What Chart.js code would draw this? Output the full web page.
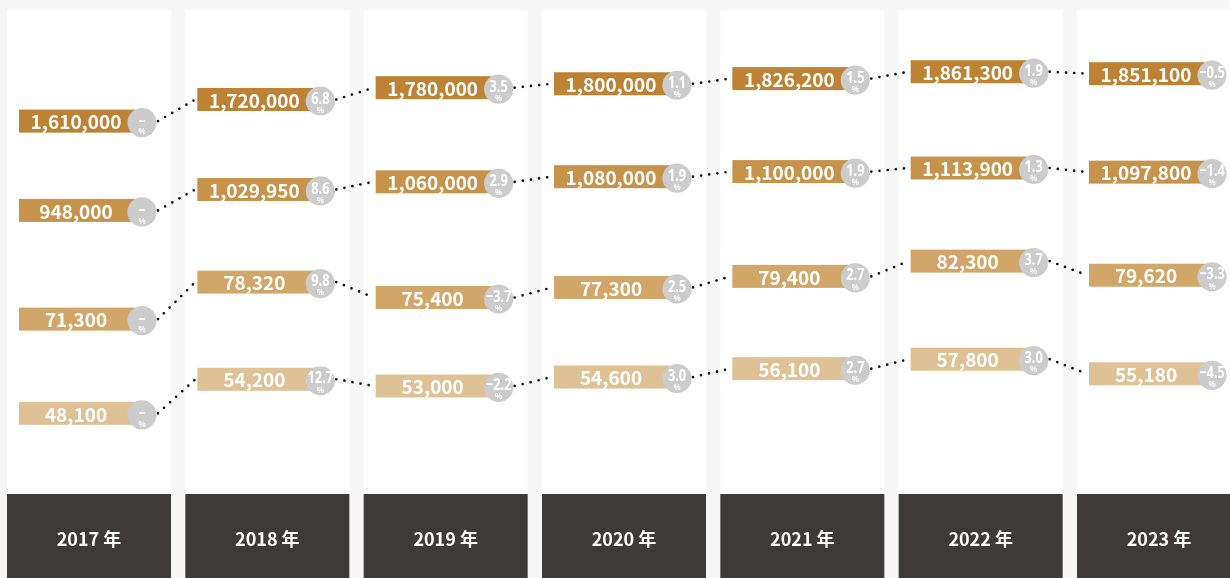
<!DOCTYPE html>
<html lang="ja">
<head>
<meta charset="utf-8">
<script src="https://cdn.jsdelivr.net/npm/chart.js@4.4.1/dist/chart.umd.min.js"></script>
<style>
  html, body { margin: 0; padding: 0; background: #f7f7f7; overflow: hidden; }
  #wrap { position: relative; width: 1230px; height: 578px; }
</style>
</head>
<body>
<div id="wrap"><canvas id="trendChart"></canvas></div>
<script>
// Year columns
const years = ['2017 年', '2018 年', '2019 年', '2020 年', '2021 年', '2022 年', '2023 年'];

// One series per row, top to bottom
const row1Values = [1610000, 1720000, 1780000, 1800000, 1826200, 1861300, 1851100];
const row2Values = [948000, 1029950, 1060000, 1080000, 1100000, 1113900, 1097800];
const row3Values = [71300, 78320, 75400, 77300, 79400, 82300, 79620];
const row4Values = [48100, 54200, 53000, 54600, 56100, 57800, 55180];

// Year-on-year change (%), first year has none
const row1Rates = ['–', '6.8', '3.5', '1.1', '1.5', '1.9', '−0.5'];
const row2Rates = ['–', '8.6', '2.9', '1.9', '1.9', '1.3', '−1.4'];
const row3Rates = ['–', '9.8', '−3.7', '2.5', '2.7', '3.7', '−3.3'];
const row4Rates = ['–', '12.7', '−2.2', '3.0', '2.7', '3.0', '−4.5'];

const rowColors = ['#bd8233', '#c7934a', '#d2a669', '#dec194'];
const rowRates = [row1Rates, row2Rates, row3Rates, row4Rates];

const FONT = '"Noto Sans CJK JP", "Noto Sans", sans-serif';
const BADGE_FONT = '"Noto Sans", "Noto Sans CJK JP", sans-serif';

function formatNumber(v) {
  return v.toLocaleString('en-US');
}

// narrow text for the small round badges
function drawCondensed(ctx, text, x, y, squeeze, maxW) {
  ctx.save();
  ctx.translate(x, y);
  ctx.scale(squeeze, 1);
  ctx.fillText(text, 0, 0, maxW / squeeze);
  ctx.restore();
}

const panelPlugin = {
  id: 'panels',
  beforeDraw(chart) {
    const ctx = chart.ctx;
    const xScale = chart.scales.x;
    ctx.save();
    ctx.fillStyle = '#f7f7f7';
    ctx.fillRect(0, 0, chart.width, chart.height);
    years.forEach((label, i) => {
      const cx = xScale.getPixelForValue(i);
      ctx.fillStyle = '#ffffff';
      ctx.fillRect(cx - 82, 10, 164, 484);
      ctx.fillStyle = '#3e3a39';
      ctx.fillRect(cx - 82, 494, 164, chart.height - 494);
      ctx.fillStyle = '#ffffff';
      ctx.font = 'bold 18px ' + FONT;
      ctx.textAlign = 'center';
      ctx.textBaseline = 'middle';
      ctx.fillText(label, cx, 539);
    });
    ctx.restore();
  },
  afterDatasetsDraw(chart) {
    const ctx = chart.ctx;
    ctx.save();

    // dotted connectors between years
    chart.data.datasets.forEach((ds, d) => {
      const pts = chart.getDatasetMeta(d).data;
      ctx.strokeStyle = '#111111';
      ctx.lineWidth = 2.7;
      ctx.lineCap = 'round';
      ctx.setLineDash([0, 8.2]);
      for (let i = 0; i < pts.length - 1; i++) {
        ctx.beginPath();
        ctx.moveTo(pts[i].x + 69, pts[i].y);
        ctx.lineTo(pts[i + 1].x - 72, pts[i + 1].y);
        ctx.stroke();
      }
    });
    ctx.setLineDash([]);

    // value bars with change badges
    chart.data.datasets.forEach((ds, d) => {
      const pts = chart.getDatasetMeta(d).data;
      pts.forEach((pt, i) => {
        const x = pt.x, y = pt.y;
        ctx.fillStyle = rowColors[d];
        ctx.fillRect(x - 70, y - 11.5, 116, 23);

        ctx.fillStyle = '#ffffff';
        ctx.font = 'bold 19px ' + FONT;
        ctx.textAlign = 'center';
        ctx.textBaseline = 'middle';
        ctx.fillText(formatNumber(ds.data[i]), x - 13, y + 1);

        ctx.beginPath();
        ctx.fillStyle = '#cccccc';
        ctx.arc(x + 53, y + 1.5, 14.6, 0, Math.PI * 2);
        ctx.fill();

        ctx.fillStyle = '#ffffff';
        ctx.font = 'bold 16px ' + BADGE_FONT;
        drawCondensed(ctx, rowRates[d][i], x + 53, y - 0.5, 0.8, 28);
        ctx.fillStyle = 'rgba(255,255,255,0.9)';
        ctx.font = 'bold 8px ' + BADGE_FONT;
        ctx.fillText('%', x + 53, y + 11);
      });
    });
    ctx.restore();
  }
};

const rowSets = [row1Values, row2Values, row3Values, row4Values].map((values, d) => ({
  data: values,
  yAxisID: 'y' + (d + 1),
  showLine: false,
  pointRadius: 0,
  pointHoverRadius: 0
}));

const hiddenAxis = (min, max) => ({ type: 'linear', display: false, min: min, max: max });

new Chart(document.getElementById('trendChart'), {
  type: 'line',
  data: { labels: years, datasets: rowSets },
  options: {
    responsive: true,
    maintainAspectRatio: false,
    animation: false,
    events: [],
    layout: { padding: { left: 89, right: 71, top: 0, bottom: 0 } },
    plugins: { legend: { display: false }, tooltip: { enabled: false } },
    scales: {
      x: { type: 'category', display: false, offset: false },
      y1: hiddenAxis(-714000, 2226000),
      y2: hiddenAxis(-490700, 1771500),
      y3: hiddenAxis(22190, 131830),
      y4: hiddenAxis(18580, 122180)
    }
  },
  plugins: [panelPlugin]
});
</script>
</body>
</html>
